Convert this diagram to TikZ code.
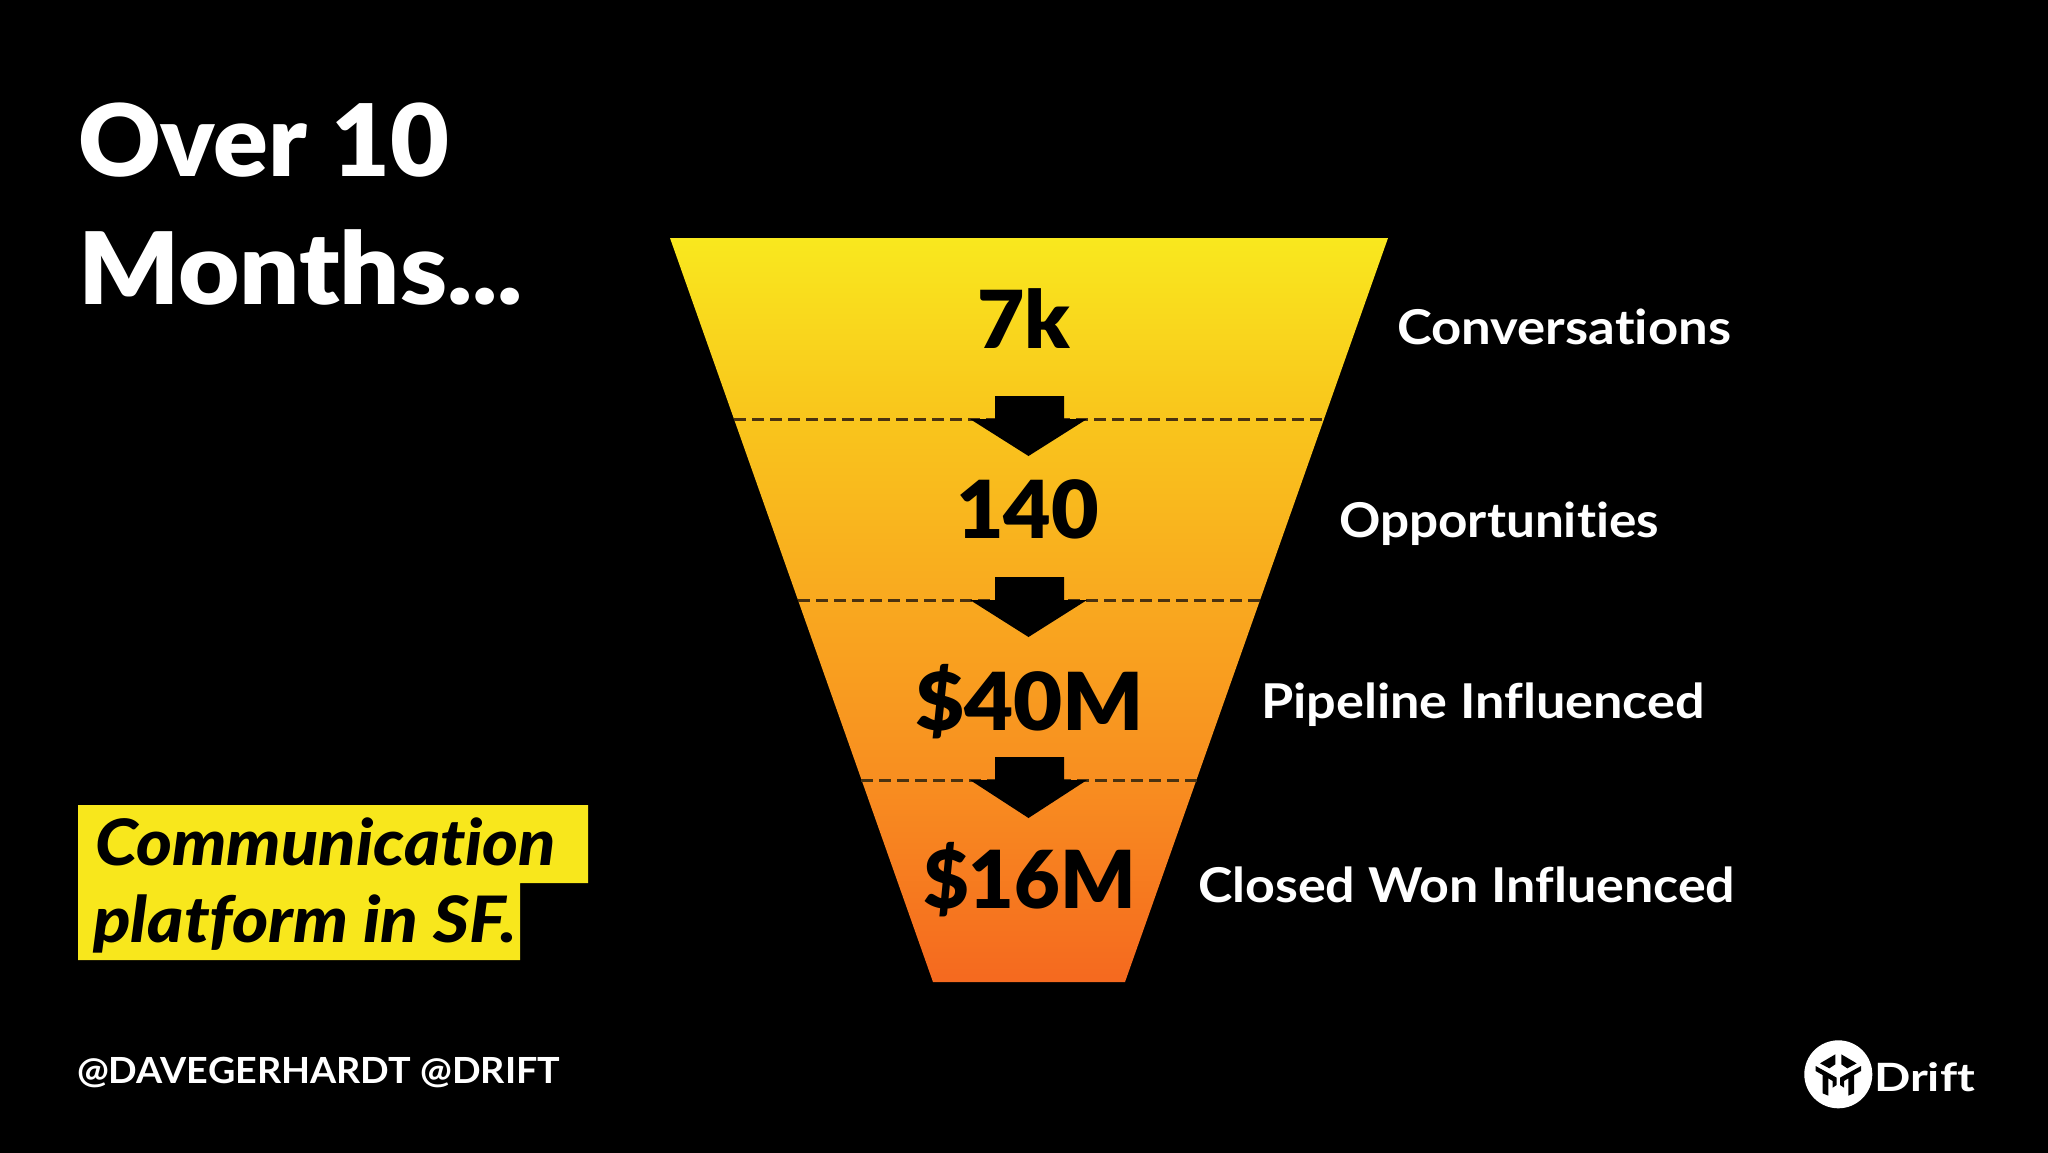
\documentclass[tikz,border=0pt]{standalone}
\usepackage{fontspec}
\setmainfont{Lato}[Ligatures=NoCommon]
\newfontfamily\blackf{Lato Black}[Ligatures=NoCommon,ItalicFont=Lato Black Italic]
\usepackage{graphicx}
\definecolor{hl}{HTML}{F8E71C}
\definecolor{dashc}{HTML}{4A3210}
\definecolor{f0}{HTML}{F9E81E}
\definecolor{f1}{HTML}{F9C51C}
\definecolor{f2}{HTML}{F9A91F}
\definecolor{f3}{HTML}{F88E20}
\definecolor{f4}{HTML}{F5691F}
\pgfdeclareverticalshading{funnelgrad}{100bp}{
 color(0bp)=(f4); color(25bp)=(f4); color(38.6bp)=(f3); color(50.7bp)=(f2); color(62.8bp)=(f1); color(75bp)=(f0); color(100bp)=(f0)}
% width in px, font size in px, text
\newcommand{\fittext}[3]{\resizebox{#1pt}{\height}{\fontsize{#2pt}{#2pt}\selectfont\bfseries #3}}
\newcommand{\fitblack}[3]{\resizebox{#1pt}{\height}{\blackf\fontsize{#2pt}{#2pt}\selectfont #3}}
\tikzset{
 txt/.style={anchor=base west,inner sep=0pt,outer sep=0pt},
 lab/.style={txt,text=white},
 num/.style={txt,text=black},
 sep/.style={draw=dashc,line width=3pt,dash pattern=on 12pt off 6pt},
 downarrow/.style={fill=black,draw=none},
}
\begin{document}
\begin{tikzpicture}[x=1pt,y=-1pt]
\useasboundingbox (0,0) rectangle (2048,1152);
\fill[black] (-3,-3) rectangle (2051,1155);
% funnel
\path[shading=funnelgrad,shading angle=0] (670,238) -- (1388,238) -- (1125,982) -- (933,982) -- cycle;
% dashed levels
\coordinate (a1) at (734,419); \coordinate (b1) at (1325,419);
\coordinate (a2) at (798,600); \coordinate (b2) at (1261,600);
\coordinate (a3) at (861,780); \coordinate (b3) at (1198,780);
\draw[sep] (a1) -- (b1);
\draw[sep] (a2) -- (b2);
\draw[sep] (a3) -- (b3);
% arrows
\fill[downarrow] (995,396) -- (1064,396) -- (1064,419) -- (1087,419) -- (1028.5,456) -- (970,419) -- (995,419) -- cycle;
\fill[downarrow] (995,577) -- (1064,577) -- (1064,600) -- (1087,600) -- (1028.5,637) -- (970,600) -- (995,600) -- cycle;
\fill[downarrow] (995,757) -- (1064,757) -- (1064,780) -- (1087,780) -- (1028.5,818) -- (970,780) -- (995,780) -- cycle;
% title
\node[lab] (t1) at (78,176) {\fitblack{371}{100}{Over 10}};
\node[lab] (t2) at (78,304) {\fitblack{445}{100}{Months...}};
% highlight
\fill[hl] (78,805) -- (588,805) -- (588,883) -- (520,883) -- (520,960) -- (78,960) -- cycle;
\node[num] (c1) at (95,865) {\fitblack{461}{64}{\itshape Communication}};
\node[num] (c2) at (93,942) {\fitblack{424}{64}{\itshape platform in SF.}};
% footer
\node[lab] (f) at (77,1083) {\fittext{483}{36}{@DAVEGERHARDT @DRIFT}};
% numbers
\node[num] (n1) at (977,348) {\fitblack{93}{80}{7k}};
\node[num] (n2) at (956,538) {\fitblack{143}{80}{140}};
\node[num] (n3) at (915,730) {\fitblack{229}{80}{\$40M}};
\node[num] (n4) at (923,908) {\fitblack{213}{80}{\$16M}};
% labels
\node[lab] (l1) at (1397,344) {\fittext{334}{48}{Conversations}};
\node[lab] (l2) at (1339,537) {\fittext{320}{48}{Opportunities}};
\node[lab] (l3) at (1261,718) {\fittext{444}{48}{Pipeline Influenced}};
\node[lab] (l4) at (1198,902) {\fittext{537}{48}{Closed Won Influenced}};
% logo
\fill[white] (1838.3,1074.3) circle (34);
\begin{scope}[shift={(1800,1035)},x=0.3333pt,y=-0.3333pt]
\fill[black] (106,58) -- (60,85) -- (88,100) -- (106,88) -- cycle;
\fill[black] (124,58) -- (170,85) -- (142,100) -- (124,88) -- cycle;
\fill[black] (47,93) -- (47,108) -- (68,120) -- (68,175) -- (85,182) -- (85,130) -- (98,138) -- (98,158) -- (110,150) -- (110,128) -- cycle;
\fill[black] (183,93) -- (183,108) -- (162,120) -- (162,175) -- (145,182) -- (145,130) -- (132,138) -- (132,158) -- (120,150) -- (120,128) -- cycle;
\end{scope}
\node[lab] (d) at (1874,1091) {\fittext{101}{39}{Drift}};
\end{tikzpicture}
\end{document}
